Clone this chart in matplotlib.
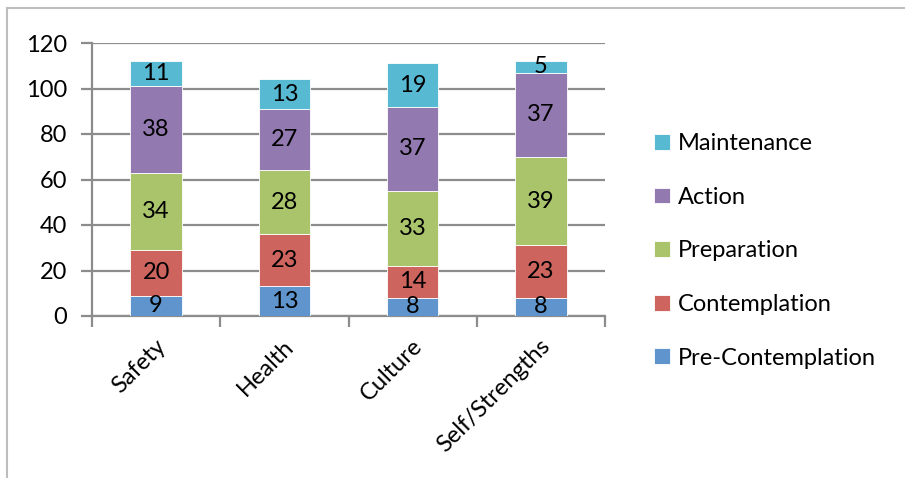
import numpy as np
import matplotlib.pyplot as plt
from matplotlib.patches import Rectangle

plt.rcParams['font.family'] = ['Lato', 'DejaVu Sans']

categories = ['Safety', 'Health', 'Culture', 'Self/Strengths']
stages = ['Pre-Contemplation', 'Contemplation', 'Preparation', 'Action', 'Maintenance']
pre_contemplation = [9, 13, 8, 8]
contemplation = [20, 23, 14, 23]
preparation = [34, 28, 33, 39]
action = [38, 27, 37, 37]
maintenance = [11, 13, 19, 5]
colors = ['#5f95cc', '#cd645e', '#a9c46b', '#9279b0', '#58b9d3']

series = [pre_contemplation, contemplation, preparation, action, maintenance]
fs = 17

fig = plt.figure(figsize=(9.05, 4.78), dpi=100)
ax = fig.add_axes([92 / 905, 1 - 316 / 478, 513 / 905, 273 / 478])

# chart frame, only top and left edges fall inside the image
fig.patches.append(Rectangle((7 / 905, -0.1), 1.2, 1 - 8 / 478 + 0.1,
                             transform=fig.transFigure, fill=False,
                             edgecolor='#bdbdbd', linewidth=1.5))

x = np.arange(len(categories))
bottom = np.zeros(len(categories))
handles = []
for vals, name, col in zip(series, stages, colors):
    bars = ax.bar(x, vals, 0.4, bottom=bottom, color=col, edgecolor='white',
                  linewidth=0.6, label=name, zorder=3)
    for xi, b, v in zip(x, bottom, vals):
        ax.text(xi, b + v / 2, str(v), ha='center', va='center', fontsize=fs,
                color='black', zorder=4)
    bottom += np.array(vals)
    handles.append(bars)

ax.set_xlim(-0.5, len(categories) - 0.5)
ax.set_ylim(0, 120)
ax.set_yticks(np.arange(0, 121, 20))
ax.yaxis.grid(True, color='#8c8c8c', linewidth=1.6, zorder=0)
ax.set_axisbelow(True)
for s in ['top', 'right']:
    ax.spines[s].set_visible(False)
for s in ['left', 'bottom']:
    ax.spines[s].set_color('#8c8c8c')
    ax.spines[s].set_linewidth(1.6)
ax.tick_params(axis='y', length=8, width=1.6, color='#8c8c8c', labelsize=fs, pad=10)

# category ticks sit between the bars
ax.set_xticks(np.arange(-0.5, len(categories)))
ax.set_xticklabels([''] * (len(categories) + 1))
ax.tick_params(axis='x', length=8, width=1.6, color='#8c8c8c')
for xi, lab in zip(x, categories):
    ax.annotate(lab, xy=(xi, 0), xycoords=('data', 'axes fraction'),
                xytext=(-1, -14), textcoords='offset points',
                rotation=45, ha='right', va='top', fontsize=fs,
                rotation_mode='anchor')

leg = fig.legend(handles[::-1], stages[::-1], loc='upper left',
                 bbox_to_anchor=(633 / 905, 1 - 112 / 478), frameon=False,
                 fontsize=fs, handlelength=0.65, handleheight=0.65,
                 handletextpad=0.35, labelspacing=1.38)

fig.savefig('out.png', dpi=100)
